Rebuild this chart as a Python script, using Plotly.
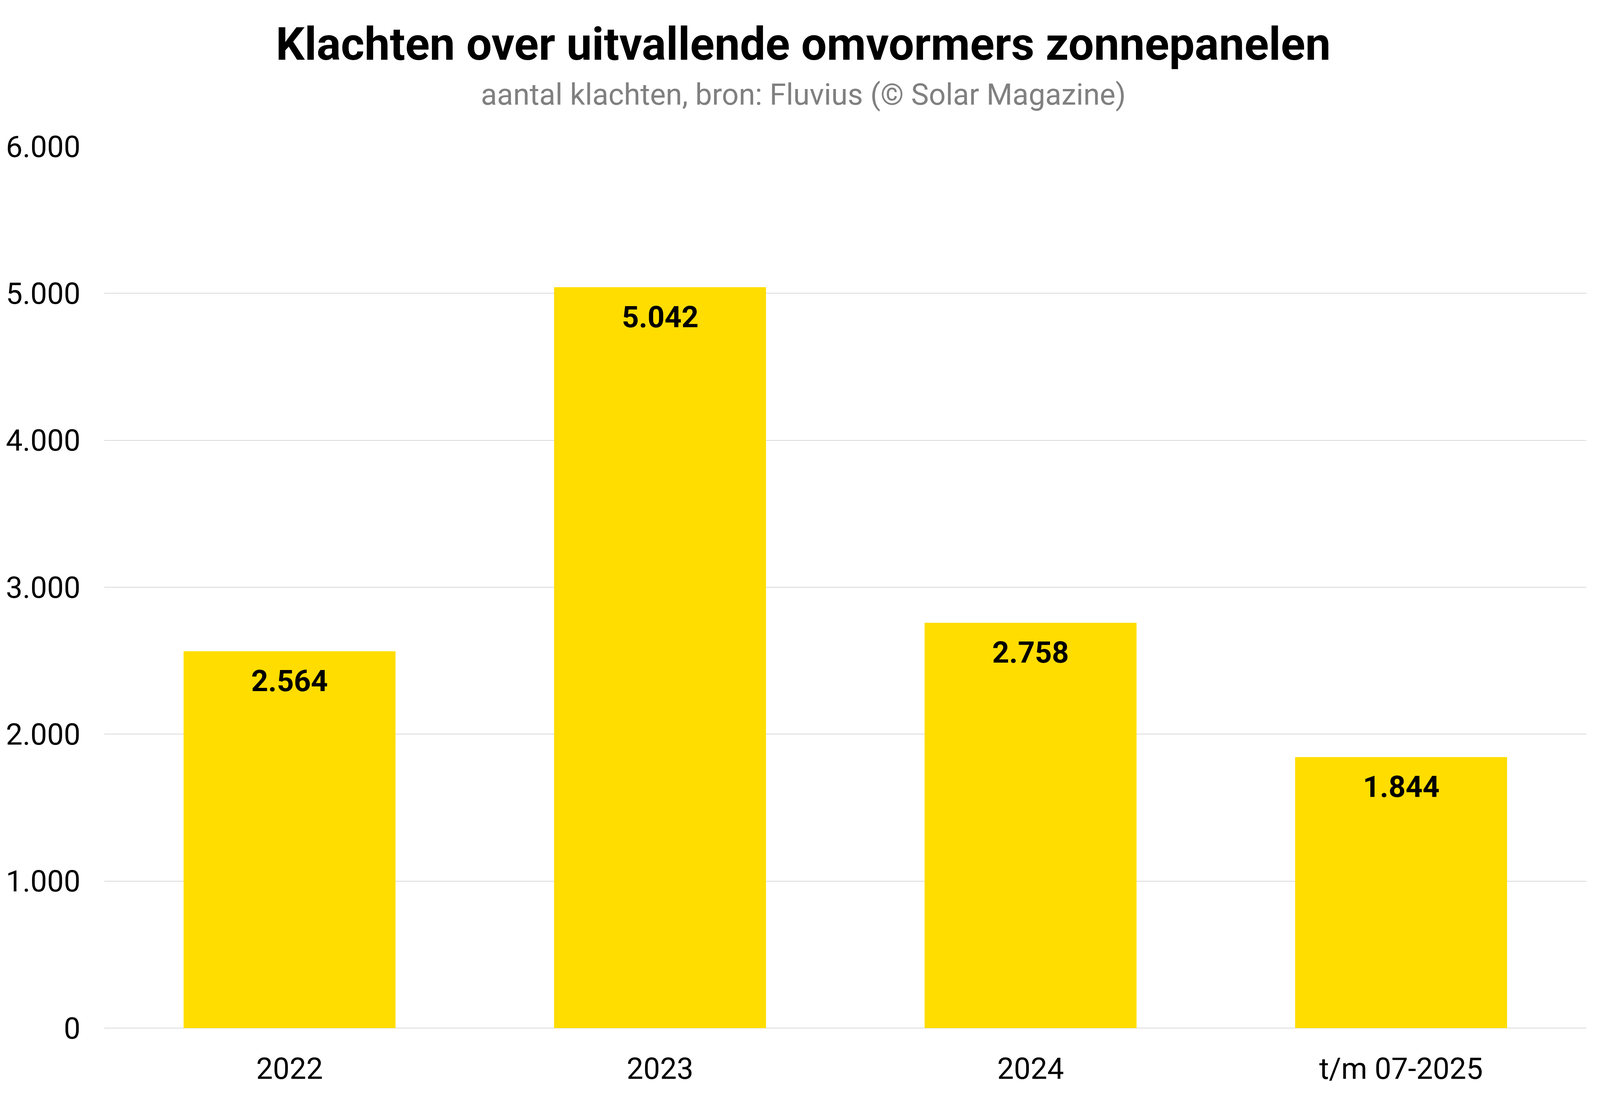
import plotly.graph_objects as go

categories = ["2022", "2023", "2024", "t/m 07-2025"]
values = [2564, 5042, 2758, 1844]
y_ticks = [0, 1000, 2000, 3000, 4000, 5000, 6000]

title_text = "Klachten over uitvallende omvormers zonnepanelen"
subtitle_text = "aantal klachten, bron: Fluvius (© Solar Magazine)"

W, H = 4096, 2807
ML, MR, MT, MB = 259, 43, 367, 182
FONT = "Roboto"
BAR_COLOR = "#FFDD00"
GRID_COLOR = "#D9D9D9"
TICK_SIZE = 76

fig = go.Figure()
fig.add_trace(go.Bar(
    x=categories,
    y=values,
    marker=dict(color=BAR_COLOR, line=dict(width=0)),
    hoverinfo="skip",
))

def fmt(v):
    return f"{v:,}".replace(",", ".")

annotations = []
for i, v in enumerate(values):
    annotations.append(dict(
        x=i, y=v, xref="x", yref="y",
        text=f"<b>{fmt(v)}</b>",
        showarrow=False,
        yanchor="middle",
        yshift=-76,
        font=dict(family=FONT, size=TICK_SIZE, color="#000000"),
    ))

page_center = (W / 2 - ML) / (W - ML - MR)
annotations.append(dict(
    x=page_center, y=1.1160, xref="paper", yref="paper",
    text=f"<b>{title_text}</b>", showarrow=False,
    xanchor="center", yanchor="middle",
    font=dict(family=FONT, size=116, color="#000000"),
))
annotations.append(dict(
    x=page_center, y=1.0589, xref="paper", yref="paper",
    text=subtitle_text, showarrow=False,
    xanchor="center", yanchor="middle",
    font=dict(family=FONT, size=TICK_SIZE, color="#808080"),
))

fig.update_layout(
    width=W, height=H,
    margin=dict(l=ML, r=MR, t=MT, b=MB, autoexpand=False),
    paper_bgcolor="white",
    plot_bgcolor="white",
    separators=",.",
    bargap=0.428,
    showlegend=False,
    annotations=annotations,
    font=dict(family=FONT, size=TICK_SIZE, color="#000000"),
)
fig.update_xaxes(
    type="category",
    range=[-0.5, len(categories) - 0.5],
    showgrid=False,
    showline=False,
    ticks="",
    ticklabelstandoff=53,
    tickfont=dict(family=FONT, size=TICK_SIZE, color="#000000"),
)
fig.update_yaxes(
    range=[0, 6000],
    tickvals=y_ticks,
    ticktext=[fmt(t) for t in y_ticks],
    showgrid=True,
    gridcolor=GRID_COLOR,
    gridwidth=2,
    zeroline=True,
    zerolinecolor=GRID_COLOR,
    zerolinewidth=2,
    showline=False,
    ticks="",
    ticklabelstandoff=60,
    tickfont=dict(family=FONT, size=TICK_SIZE, color="#000000"),
)

fig.write_html("out.html")
